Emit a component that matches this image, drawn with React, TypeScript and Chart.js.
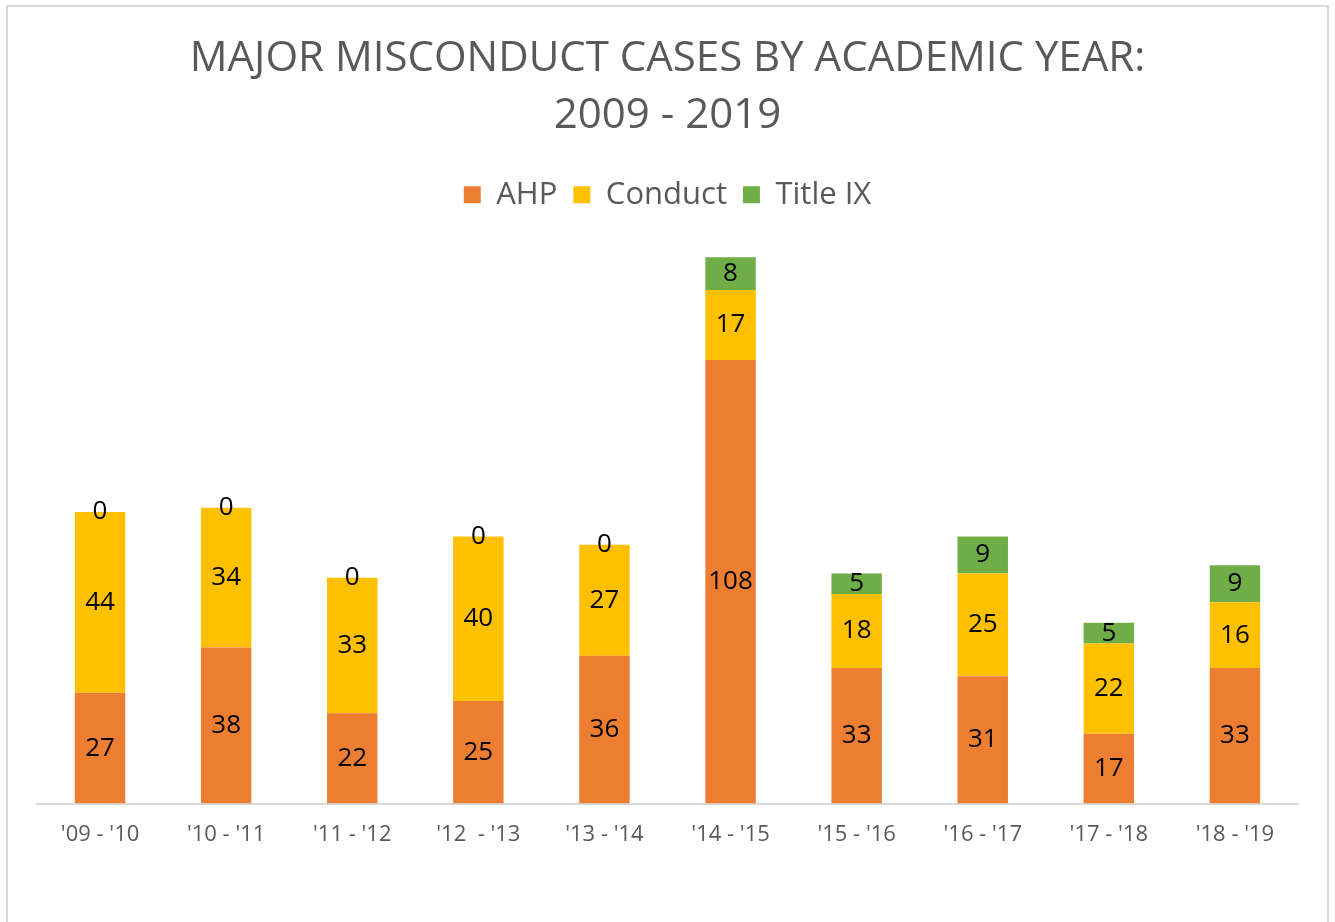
import React, { useEffect, useRef } from "react";
import { Chart, registerables } from "chart.js";

Chart.register(...registerables);

const categories = ["'09 - '10", "'10 - '11", "'11 - '12", "'12  - '13", "'13 - '14", "'14 - '15", "'15 - '16", "'16 - '17", "'17 - '18", "'18 - '19"];
const ahp = [27, 38, 22, 25, 36, 108, 33, 31, 17, 33];
const conduct = [44, 34, 33, 40, 27, 17, 18, 25, 22, 16];
const titleIX = [0, 0, 0, 0, 0, 8, 5, 9, 5, 9];

const FONT = "'Open Sans', 'Noto Sans', sans-serif";

const framePlugin = {
  id: "frame",
  beforeDraw(chart: any) {
    const ctx = chart.ctx;
    ctx.save();
    ctx.fillStyle = "#ffffff";
    ctx.fillRect(0, 0, chart.width, chart.height);
    ctx.strokeStyle = "#d9d9d9";
    ctx.lineWidth = 2;
    ctx.strokeRect(7, 6, 1321, 930);
    ctx.restore();
  },
};

const valueLabels = {
  id: "valueLabels",
  afterDatasetsDraw(chart: any) {
    const ctx = chart.ctx;
    ctx.save();
    ctx.font = `26px ${FONT}`;
    ctx.fillStyle = "#000000";
    ctx.textAlign = "center";
    ctx.textBaseline = "middle";
    chart.data.datasets.forEach((ds: any, di: number) => {
      const meta = chart.getDatasetMeta(di);
      meta.data.forEach((el: any, i: number) => {
        const v = ds.data[i];
        const y = (el.y + el.base) / 2;
        ctx.fillText(String(v), el.x, y);
      });
    });
    ctx.restore();
  },
};

export default function App() {
  const ref = useRef<HTMLCanvasElement | null>(null);
  useEffect(() => {
    document.body.style.margin = "0";
    const canvas = ref.current!;
    const chart = new Chart(canvas, {
      type: "bar",
      data: {
        labels: categories,
        datasets: [
          { label: "AHP", data: ahp, backgroundColor: "#ED7D31" },
          { label: "Conduct", data: conduct, backgroundColor: "#FFC000" },
          { label: "Title IX", data: titleIX, backgroundColor: "#70AD47" },
        ],
      },
      options: {
        responsive: false,
        animation: false,
        devicePixelRatio: 1,
        datasets: { bar: { categoryPercentage: 1, barPercentage: 0.4 } },
        layout: { padding: { left: 37, right: 37, top: 30, bottom: 64 } },
        plugins: {
          tooltip: { enabled: false },
          title: {
            display: true,
            text: ["MAJOR MISCONDUCT CASES BY ACADEMIC YEAR:", "2009 - 2019"],
            color: "#595959",
            font: { family: FONT, size: 42, weight: "normal", lineHeight: 1.36 },
            padding: { top: 0, bottom: 19 },
          },
          legend: {
            display: true,
            position: "top",
            labels: {
              color: "#595959",
              font: { family: FONT, size: 31 },
              boxWidth: 17,
              boxHeight: 17,
              padding: 16,
            },
          },
        },
        scales: {
          x: {
            stacked: true,
            grid: { display: false },
            border: { display: true, color: "#d9d9d9", width: 2 },
            ticks: { color: "#595959", font: { family: FONT, size: 22 }, padding: 10, maxRotation: 0, autoSkip: false },
          },
          y: {
            stacked: true,
            display: false,
            min: 0,
            max: 142,
          },
        },
      },
      plugins: [framePlugin, valueLabels],
    });
    return () => chart.destroy();
  }, []);
  return <canvas ref={ref} width={1335} height={922} style={{ display: "block", width: 1335, height: 922 }} />;
}
